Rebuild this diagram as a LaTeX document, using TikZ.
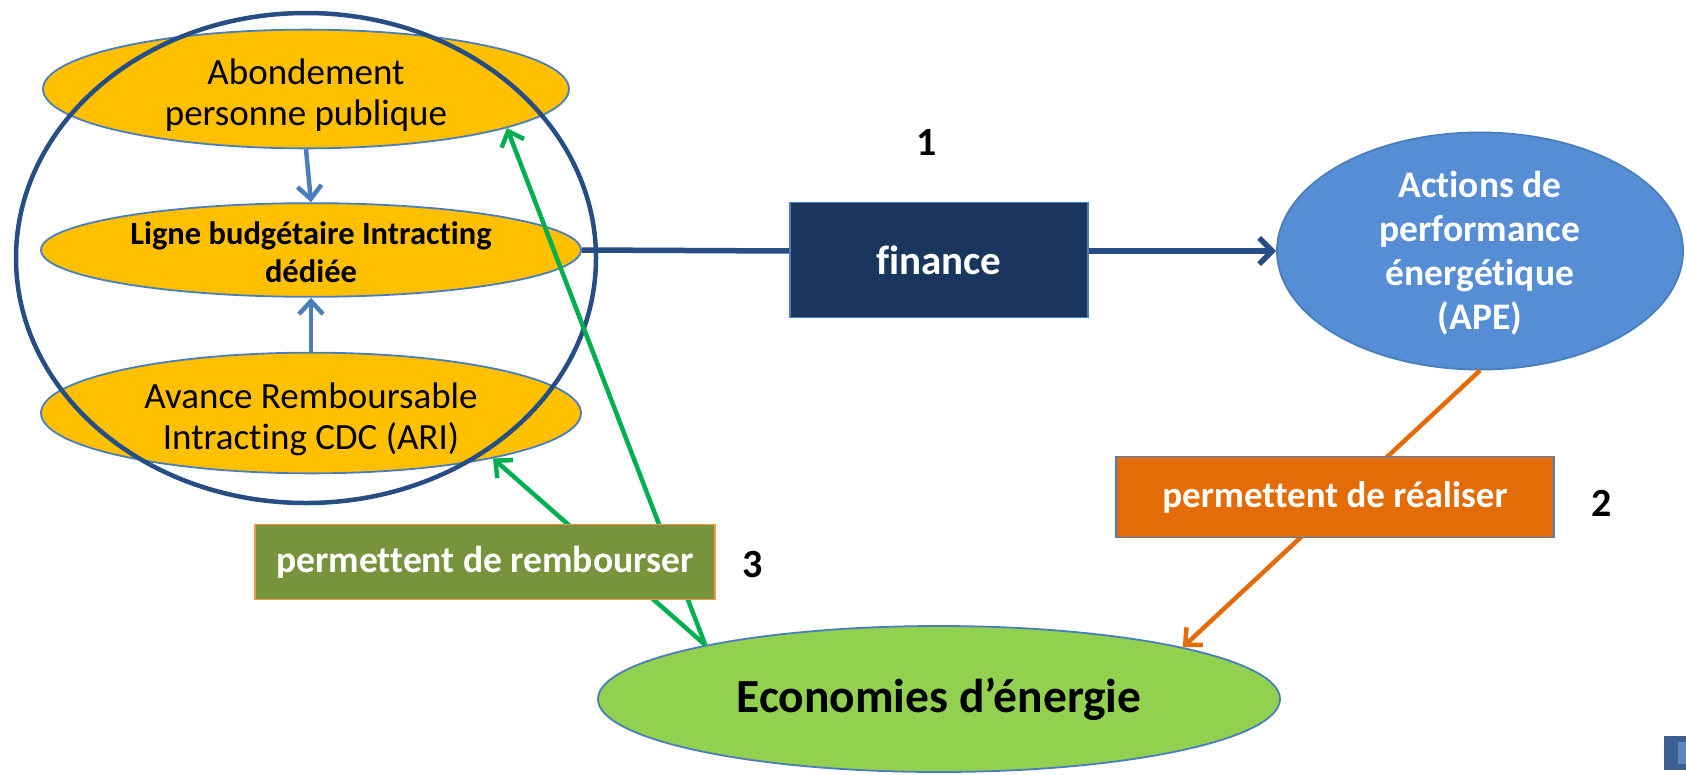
\documentclass[tikz,border=0pt]{standalone}
\usepackage{fontspec}
\setmainfont{Carlito}[Ligatures={NoCommon,NoContextual}]
\usetikzlibrary{shapes.geometric,arrows.meta}
\definecolor{gold}{HTML}{FFC000}
\definecolor{edgeblue}{HTML}{4A7EBB}
\definecolor{ringblue}{HTML}{264D84}
\definecolor{navy}{HTML}{1A365C}
\definecolor{apeblue}{HTML}{558ED5}
\definecolor{orangefill}{HTML}{E36C09}
\definecolor{olive}{HTML}{77933C}
\definecolor{boxorange}{HTML}{F79646}
\definecolor{lime}{HTML}{92D050}
\definecolor{arrgreen}{HTML}{00B050}
\definecolor{iconblue}{HTML}{3C5F92}
\definecolor{iconlight}{HTML}{5B87C5}
\tikzset{
  ell/.style={ellipse, draw=edgeblue, line width=1.8pt, inner sep=0pt, align=center},
  goldell/.style={ell, fill=gold, text=black},
  rbox/.style={rectangle, line width=1.8pt, inner sep=0pt, align=center},
  regtext/.style={font=\fontsize{37}{41}\selectfont},
  numtext/.style={font=\bfseries\fontsize{40}{46}\selectfont},
  tip/.style={-{Straight Barb[length=13pt,width=24pt,line width=4.5pt]}},
  conn/.style={line width=4.5pt},
}
\begin{document}
\begin{tikzpicture}[x=1pt,y=-1pt]
\useasboundingbox (0,0) rectangle (1686,774);
% left ellipses
\node[goldell, regtext, minimum width=526pt, minimum height=102pt] (abond) at (306,89) {\rule{0pt}{37pt}Abondement\\personne publique};
\node[goldell, font=\bfseries\fontsize{32.5}{38}\selectfont, minimum width=540pt, minimum height=88pt] (ligne) at (311,250) {\rule{0pt}{28pt}Ligne budgétaire Intracting\\dédiée};
\node[goldell, regtext, minimum width=540pt, minimum height=116pt] (avance) at (311,413) {\rule{0pt}{38pt}Avance Remboursable\\Intracting CDC (ARI)};
% big ring
\node[ellipse, draw=ringblue, line width=4.5pt, minimum width=580pt, minimum height=490pt, inner sep=0pt] (ring) at (306,258) {};
% blue arrows between ellipses
\draw[conn, tip, draw=edgeblue] (abond.south) -- (ligne.north);
\draw[conn, tip, draw=edgeblue] (avance.north) -- (ligne.south);
% APE
\node[ell, fill=apeblue, text=white, font=\bfseries\fontsize{37.5}{44}\selectfont, minimum width=406pt, minimum height=216pt] (ape) at (1480,251) {\rule{0pt}{30pt}Actions de\\performance\\énergétique\\(APE)};
% Economies
\node[ell, fill=lime, text=black, font=\bfseries\fontsize{47.5}{54}\selectfont, minimum width=682pt, minimum height=146pt] (eco) at (939,699) {Economies d’énergie};
% navy connector
\draw[line width=5.5pt, draw=ringblue] (ligne.east) -- (ape.west -| 790,0);
\draw[line width=5.5pt, -{Straight Barb[length=13pt,width=26pt,line width=5.5pt]}, draw=ringblue] (1088,251) -- (ape.west);
\node[rbox, draw=edgeblue, fill=navy, text=white, font=\bfseries\fontsize{41}{48}\selectfont, minimum width=298pt, minimum height=115pt] (fin) at (939,260) {finance};
% orange connector
\draw[conn, tip, draw=orangefill] (ape.south) -- (eco.12);
\node[rbox, draw=edgeblue, fill=orangefill, text=white, font=\bfseries\fontsize{37}{44}\selectfont, minimum width=438pt, minimum height=81pt] (real) at (1335,497) {permettent de réaliser};
% green connectors
\draw[conn, tip, draw=arrgreen] (eco.167) -- (abond.-11);
\draw[conn, tip, draw=arrgreen] (eco.167) -- (avance.-14);
\node[rbox, draw=boxorange, fill=olive, text=white, font=\bfseries\fontsize{37.5}{44}\selectfont, minimum width=460pt, minimum height=75pt] (remb) at (485,562) {permettent de rembourser};
% numbers
\node[numtext] (n1) at (927,143) {1};
\node[numtext] (n2) at (1602,503) {2};
\node[numtext] (n3) at (753,565) {3};
% corner icon fragment
\fill[iconblue] (1664,736) rectangle (1686,770);
\fill[iconlight] (1678,742) rectangle (1686,764);
\end{tikzpicture}
\end{document}
